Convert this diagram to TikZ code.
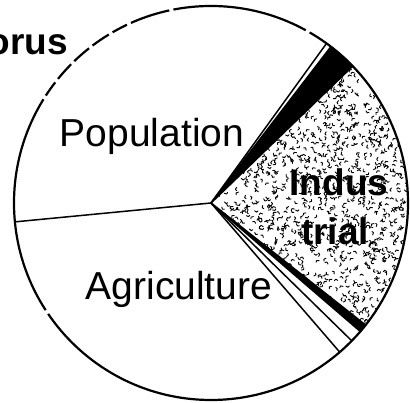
\documentclass[tikz,border=0pt]{standalone}
\usepackage{fontspec}
\setmainfont{Liberation Sans}
\begin{document}
\begin{tikzpicture}[x=1pt,y=1pt,
  rim/.style={line width=2.2pt},
  spoke/.style={line width=1.5pt},
  band/.style={fill=black,draw=black,line width=1.6pt,line join=round},
  slicelabel/.style={font=\fontsize{39}{39}\selectfont,inner sep=0pt,anchor=base},
  boldlabel/.style={font=\bfseries\fontsize{37}{37}\selectfont,inner sep=0pt,anchor=base},
  grain/.style={line width=0.9pt,line cap=round,line join=round},
  gap/.style={white,line width=4pt}]
\useasboundingbox (0,0) rectangle (410,403);
\clip (0,0) rectangle (410,403);
\coordinate (C) at (211,200);
\def\R{197}

% speckled industrial sector
\begin{scope}
  \clip (C) -- ++(44:\R) arc[start angle=44,end angle=-38.3,radius=\R] -- cycle;
  \pgfmathsetseed{4711}
  \foreach \i in {1,...,950}{
    \pgfmathsetmacro\rr{\R*sqrt(rnd)}
    \pgfmathsetmacro\aa{-38.3+82.3*rnd}
    \pgfmathsetmacro\dd{360*rnd}
    \draw[grain] (C) ++(\aa:\rr) -- ++(\dd:2.4) -- ++(\dd+75:1.8);
  }
\end{scope}

% thin black sectors
\filldraw[band] (C) -- ++(52.5:\R) arc[start angle=52.5,end angle=44,radius=\R] -- cycle;
\filldraw[band] (C) -- ++(-38.3:\R) arc[start angle=-38.3,end angle=-40.7,radius=\R] -- cycle;

% sector boundaries
\path (C) ++(54.1:\R) coordinate (s1);
\path (C) ++(-44.4:\R) coordinate (s2);
\path (C) ++(-49.2:\R) coordinate (s3);
\path (C) ++(185.5:\R) coordinate (s4);
\draw[spoke] (C) -- (s1);
\draw[spoke] (C) -- (s2);
\draw[spoke] (C) -- (s3);
\draw[spoke] (C) -- (s4);

% rim with worn-out breaks
\draw[rim] (C) circle[radius=\R];
\foreach \g in {60,101,114,120,127,134,141,147,213}{
  \draw[gap] (C) ++(\g:\R) arc[start angle=\g,end angle=\g+1.2,radius=\R];
}

% labels
\node[slicelabel] (pop) at (152,256) {Population};
\node[slicelabel] (agr) at (179,103) {Agriculture};
\node[boldlabel] (ind1) at (339,207) {Indus};
\node[boldlabel] (ind2) at (335,158) {trial};
\node[boldlabel,anchor=base east] (pho) at (68,348) {Phosphorus};
\end{tikzpicture}
\end{document}
